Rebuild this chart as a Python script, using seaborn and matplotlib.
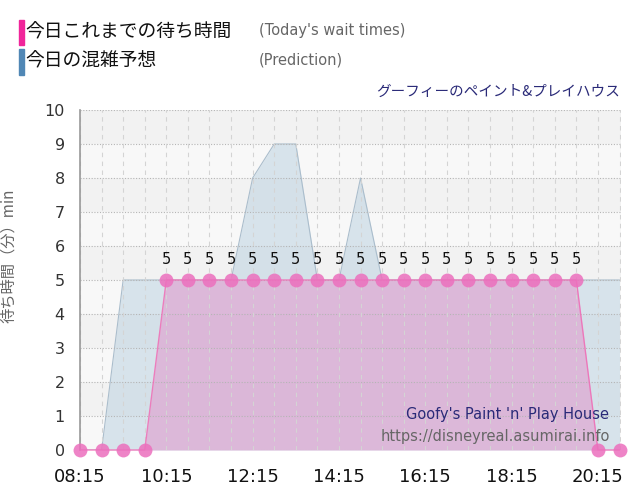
import matplotlib
matplotlib.use("Agg")
import matplotlib.pyplot as plt
import seaborn as sns
import pandas as pd

# half-hour slots
times = ["08:15", "08:45", "09:15", "09:45", "10:15", "10:45", "11:15", "11:45",
         "12:15", "12:45", "13:15", "13:45", "14:15", "14:45", "15:15", "15:45",
         "16:15", "16:45", "17:15", "17:45", "18:15", "18:45", "19:15", "19:45",
         "20:15", "20:45"]
actual = [0, 0, 0, 0, 5, 5, 5, 5, 5, 5, 5, 5, 5, 5, 5, 5,
          5, 5, 5, 5, 5, 5, 5, 5, 0, 0]
predicted = [0, 0, 5, 5, 5, 5, 5, 5, 8, 9, 9, 5, 5, 8, 5, 5,
             5, 5, 5, 5, 5, 5, 5, 5, 5, 5]
xtick_labels = ["08:15", "10:15", "12:15", "14:15", "16:15", "18:15", "20:15"]
yticks = [0, 1, 2, 3, 4, 5, 6, 7, 8, 9, 10]


def to_hours(t):
    h, m = t.split(":")
    return int(h) + int(m) / 60


df = pd.DataFrame({"t": [to_hours(t) for t in times],
                   "actual": actual, "predicted": predicted})

sns.set_style("white")
jp = ["Noto Sans CJK JP", "DejaVu Sans"]
plt.rcParams["font.family"] = ["DejaVu Sans", "Noto Sans CJK JP"]

fig = plt.figure(figsize=(6.4, 5), dpi=100)
ax = fig.add_axes([0.125, 0.1, 0.845, 0.68])
x0, x1 = 8.25, 20.78
ax.set_xlim(x0, x1)
ax.set_ylim(0, 10)

# alternating background bands
for lo in range(10):
    ax.axhspan(lo, lo + 1, color="#f2f2f2" if lo % 2 else "#f8f8f8", zorder=0, lw=0)

# prediction (blue) area
ax.fill_between(df["t"], df["predicted"], color="#b8cfdf", alpha=0.5, lw=0, zorder=1)
sns.lineplot(data=df, x="t", y="predicted", ax=ax, color="#aabdcc", lw=0.8, zorder=1.5)

# today's actual (pink) area
ax.fill_between(df["t"], df["actual"], color="#dfa8d3", alpha=0.72, lw=0, zorder=2)

# grid on top of the fills
for v in yticks[1:]:
    ax.axhline(v, color="#b5b5b5", ls=(0, (1, 1.5)), lw=0.8, zorder=2.5)
ax.axhline(0, color="#c8c8c8", ls=(0, (1, 1.5)), lw=0.8, zorder=2.5)
for t in df["t"]:
    ax.axvline(t, color="#d4d4d4", ls=(0, (4, 4)), lw=0.8, zorder=2.5)
ax.axvline(x1, color="#d4d4d4", ls=(0, (4, 4)), lw=0.8, zorder=2.5)

sns.lineplot(data=df, x="t", y="actual", ax=ax, color="#f06cb5", lw=1.0,
             marker="o", markersize=10, markerfacecolor="#ec6fbd",
             markeredgewidth=0, alpha=0.85, zorder=3, clip_on=False)

for t, v in zip(df["t"], df["actual"]):
    if v > 0:
        ax.annotate(str(v), (t, v), xytext=(0, 9), textcoords="offset points",
                    ha="center", va="bottom", fontsize=10.5, color="#111111", zorder=4)

# axes styling
major = [to_hours(s) for s in xtick_labels]
ax.set_xticks(major)
ax.set_xticklabels(xtick_labels, fontsize=13, color="#111111")
ax.tick_params(axis="x", length=12, width=1, color="#e2e2e2", pad=1)
ax.set_yticks(yticks)
ax.set_yticklabels([str(v) for v in yticks], fontsize=11.5, color="#333333")
ax.tick_params(axis="y", length=8, width=0.8, color="#dddddd", pad=3)
for s in ["top", "right", "bottom"]:
    ax.spines[s].set_visible(False)
ax.spines["left"].set_color("#999999")
ax.spines["left"].set_linewidth(1.2)
ax.set_xlabel("")
ax.set_ylabel("待ち時間（分）min", fontsize=11, color="#666666", family=jp)
ax.yaxis.set_label_coords(-0.116, 0.57)

# header legend
fig.patches.append(plt.Rectangle((19 / 640, 1 - 45 / 500), 5 / 640, 25 / 500,
                                 transform=fig.transFigure, color="#f0259a"))
fig.patches.append(plt.Rectangle((19 / 640, 1 - 75 / 500), 5 / 640, 26 / 500,
                                 transform=fig.transFigure, color="#5087b5"))
fig.text(25 / 640, 1 - 32 / 500, "今日これまでの待ち時間", fontsize=13.5,
         family=jp, color="#111111", va="center")
fig.text(25 / 640, 1 - 61 / 500, "今日の混雑予想", fontsize=13.5,
         family=jp, color="#111111", va="center")
fig.text(259 / 640, 1 - 31 / 500, "(Today's wait times)", fontsize=10.5,
         color="#666666", va="center")
fig.text(259 / 640, 1 - 60 / 500, "(Prediction)", fontsize=10.5,
         color="#666666", va="center")
fig.text(620 / 640, 1 - 92 / 500, "グーフィーのペイント&プレイハウス", fontsize=10.5,
         family=jp, color="#2a2a78", ha="right", va="center")

# watermark
fig.text(609 / 640, 1 - 415 / 500, "Goofy's Paint 'n' Play House", fontsize=10.5,
         color="#2a2a78", ha="right", va="center")
fig.text(610 / 640, 1 - 436 / 500, "https://disneyreal.asumirai.info", fontsize=10.5,
         color="#666666", ha="right", va="center")

fig.savefig("out.png", dpi=100)
